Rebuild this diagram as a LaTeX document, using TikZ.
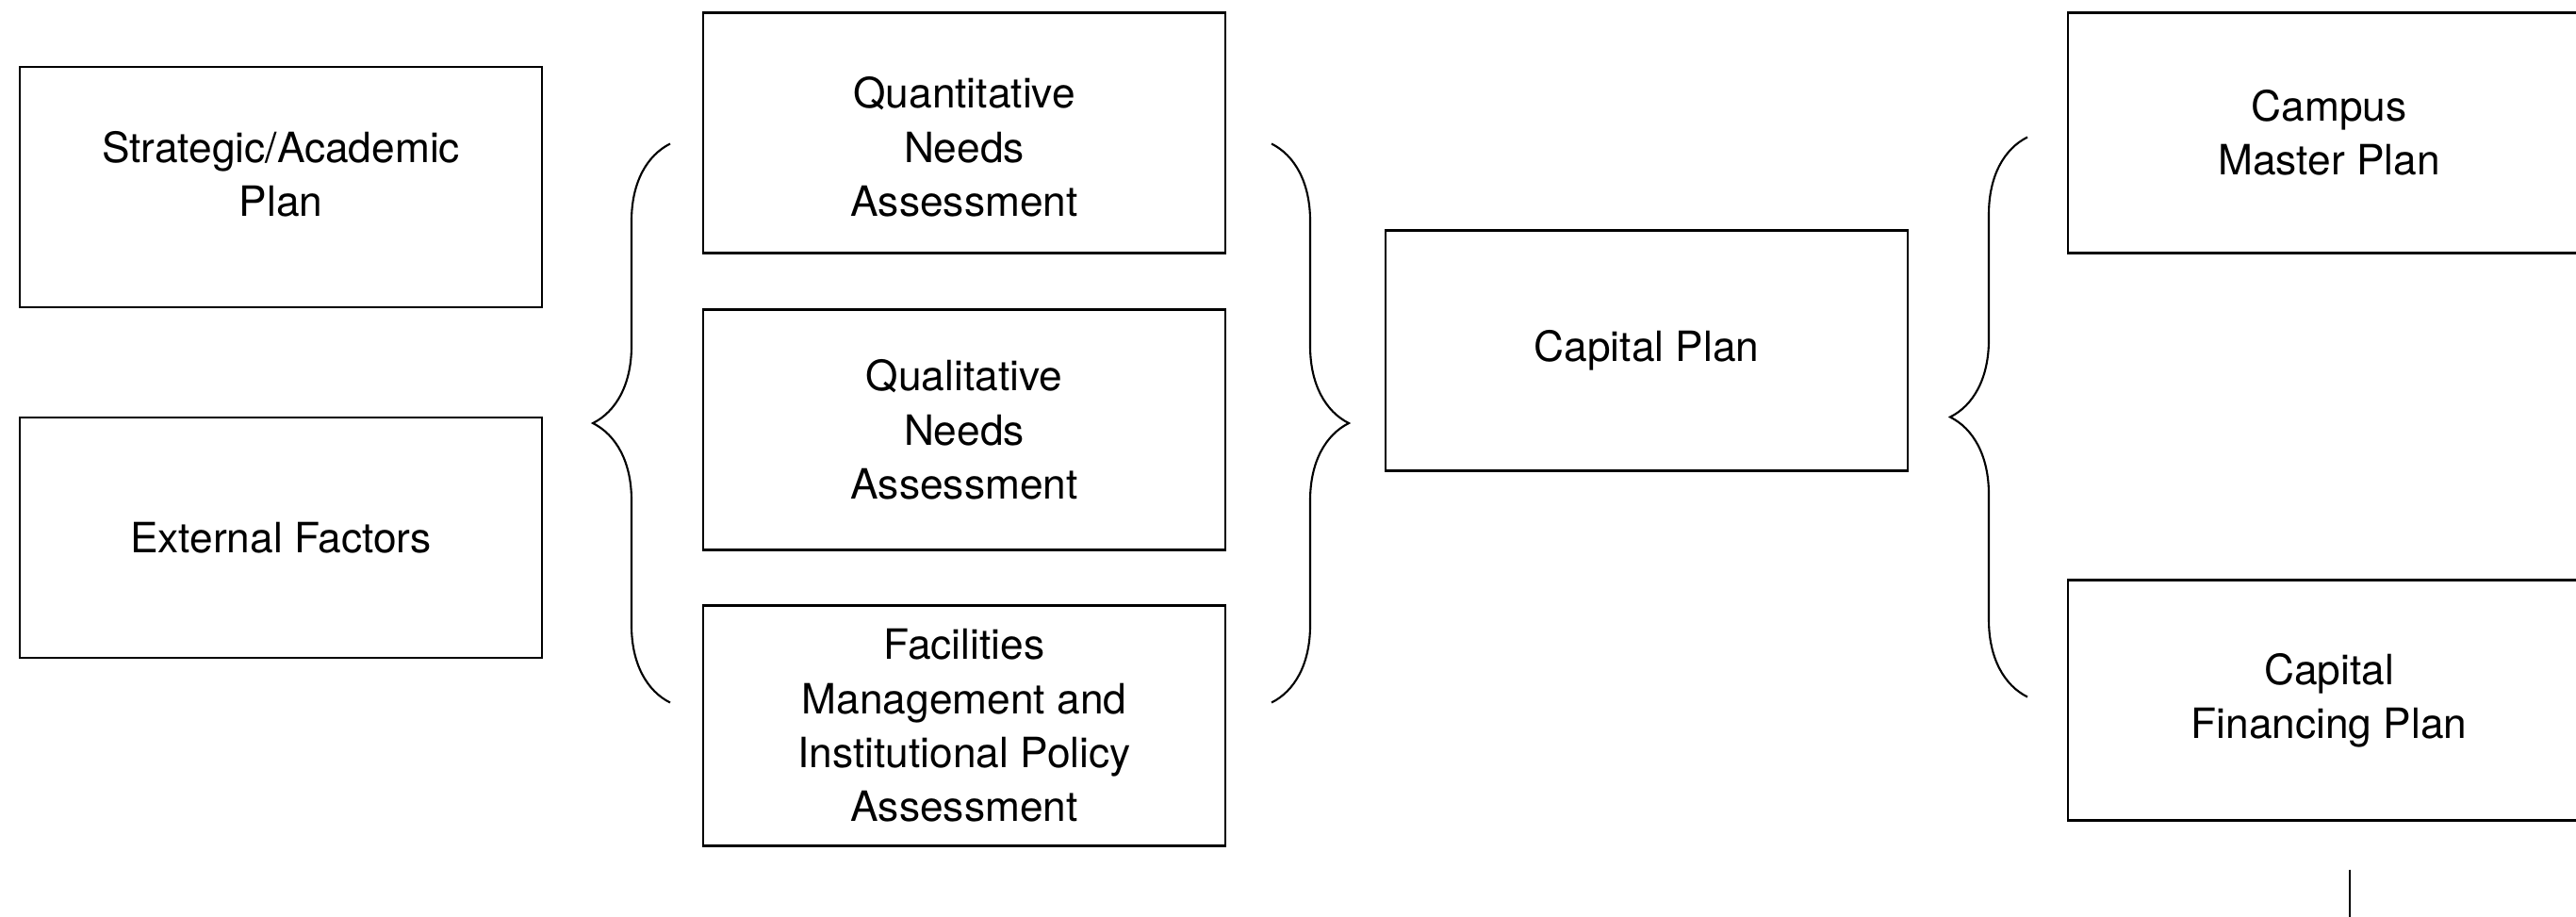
\documentclass[tikz,border=0pt]{standalone}
\usepackage{fontspec}
\setmainfont{TeX Gyre Heros}
\usepackage{tikz}
\usetikzlibrary{positioning,calc,decorations.pathreplacing}
\tikzset{
  planfont/.style = {font=\fontsize{12.6}{16.3}\selectfont,align=center},
  planbox/.style  = {draw,line width=0.6pt,minimum width=5.54cm,
                     minimum height=2.55cm,outer sep=0pt,planfont},
  curly/.style    = {decorate,line width=0.6pt,
                     decoration={brace,amplitude=0.82cm}},
}
\begin{document}
\begin{tikzpicture}
  \path[use as bounding box,clip] (0,0) rectangle (27.33,-9.72);
  % inputs
  \node[planbox,label={[planfont,yshift=0.14cm]center:Strategic/Academic\\Plan}]
       (strat) at (2.98,-1.985) {};
  \node[planbox,below=1.17 of strat] (ext) {External Factors};
  % assessments
  \node[planbox,label={[planfont,yshift=-0.15cm]center:Quantitative\\Needs\\Assessment}]
       (quant) at (10.23,-1.41) {};
  \node[planbox,below=0.6 of quant] (qual) {Qualitative\\Needs\\Assessment};
  \node[planbox,below=0.59 of qual] (facil)
       {Facilities\\Management and\\Institutional Policy\\Assessment};
  % plans
  \node[planbox] (cap) at (17.47,-3.72) {Capital Plan};
  \node[planbox] (campus) at (24.71,-1.41) {Campus\\Master Plan};
  \node[planbox,below=3.47 of campus] (fin) {Capital\\Financing Plan};
  % braces
  \coordinate (b1s) at ($(facil.north west)+(-0.35,-1.03)$);
  \coordinate (b1e) at ($(quant.north west)+(-0.35,-1.39)$);
  \draw[curly] (b1s) -- (b1e);
  \coordinate (b2s) at ($(quant.north east)+(0.49,-1.39)$);
  \coordinate (b2e) at ($(facil.north east)+(0.49,-1.03)$);
  \draw[curly] (b2s) -- (b2e);
  \coordinate (b3s) at ($(fin.north west)+(-0.43,-1.24)$);
  \coordinate (b3e) at ($(campus.north west)+(-0.43,-1.32)$);
  \draw[curly] (b3s) -- (b3e);
  % link leaving the bottom
  \coordinate (lnk) at ($(fin.south)+(0.22,-0.52)$);
  \draw[line width=0.6pt] (lnk) -- ++(0,-0.8);
\end{tikzpicture}
\end{document}
